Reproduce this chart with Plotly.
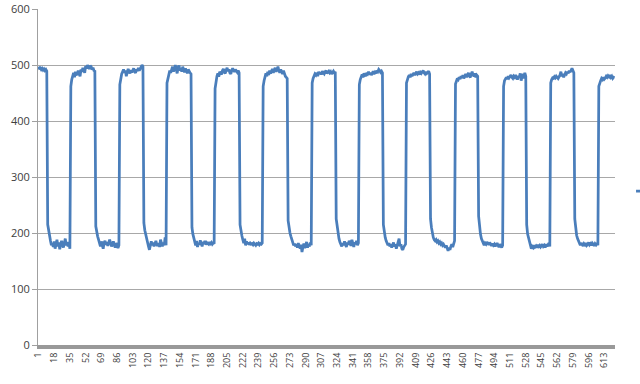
import plotly.graph_objects as go

high0 = [497, 494, 495, 492, 494, 491, 493, 490, 492, 489]
low1 = [215, 203, 195, 186, 178, 182, 175, 185, 172, 180, 188, 176, 183, 171, 179, 186, 180, 174, 182, 190, 178, 184, 176, 181, 172]
high1 = [462, 474, 480, 486, 478, 488, 484, 482, 490, 485, 480, 492, 488, 495, 490, 486, 498, 494, 500, 496, 493, 499, 497, 492, 495, 490, 489]
low2 = [212, 200, 194, 188, 180, 176, 185, 178, 172, 183, 186, 179, 184, 177, 181, 188, 182, 176, 180, 185, 178, 174, 182, 179, 173, 178]
high2 = [465, 478, 484, 488, 492, 486, 490, 480, 488, 493, 489, 485, 491, 487, 490, 494, 488, 486, 492, 489, 495, 490, 493, 498, 500, 497]
low3 = [218, 205, 196, 188, 182, 176, 170, 180, 185, 178, 183, 176, 181, 186, 179, 177, 182, 175, 188, 180, 176, 183, 178, 192, 178]
high3 = [468, 475, 484, 490, 486, 494, 497, 488, 495, 500, 492, 485, 496, 499, 490, 494, 488, 497, 492, 487, 494, 490, 485, 492, 488, 486, 484]
low4 = [210, 198, 192, 185, 178, 186, 175, 182, 179, 187, 180, 176, 184, 181, 186, 179, 183, 182, 180, 184, 181, 183, 180, 182, 181]
high4 = [458, 474, 480, 485, 479, 488, 486, 483, 490, 493, 487, 485, 491, 495, 489, 492, 486, 484, 490, 494, 491, 488, 492, 489, 487, 490, 486]
low5 = [215, 202, 195, 188, 182, 190, 178, 185, 180, 183, 179, 182, 180, 181, 179, 182, 180, 178, 181, 180, 182, 179, 181, 180, 182]
high5 = [462, 472, 478, 485, 480, 488, 482, 490, 485, 488, 493, 486, 490, 495, 488, 492, 497, 490, 486, 492, 488, 484, 490, 482, 480, 478, 476]
low6 = [222, 208, 200, 194, 188, 183, 178, 181, 176, 180, 174, 182, 177, 172, 179, 166, 175, 181, 173, 178, 184, 174, 180, 176, 183, 178]
high6 = [468, 476, 480, 484, 482, 486, 480, 488, 484, 487, 483, 489, 486, 484, 488, 490, 485, 487, 489, 486, 488, 484, 487, 489, 486, 488]
low7 = [225, 212, 200, 190, 184, 180, 176, 182, 178, 185, 180, 175, 183, 179, 186, 180, 177, 188, 181, 175, 183, 180, 186, 178, 182]
high7 = [465, 474, 478, 483, 478, 485, 482, 480, 486, 484, 488, 483, 486, 482, 485, 489, 484, 487, 485, 490, 488, 492, 490, 487, 489, 486]
low8 = [215, 200, 192, 186, 180, 178, 182, 176, 180, 174, 178, 183, 176, 180, 172, 178, 185, 190, 176, 180, 172, 170, 175, 178, 180]
high8 = [468, 476, 479, 482, 478, 484, 480, 483, 486, 482, 485, 488, 484, 486, 483, 487, 485, 488, 490, 486, 484, 488, 485, 487, 489, 484]
low9 = [225, 210, 198, 192, 188, 186, 188, 184, 186, 182, 184, 180, 182, 178, 180, 176, 174, 178, 172, 168, 174, 170, 176, 180, 175, 182, 186]
high9 = [466, 472, 476, 474, 478, 475, 480, 477, 482, 476, 480, 484, 478, 482, 486, 480, 478, 484, 488, 482, 480, 485, 478, 482, 480]
low10 = [230, 210, 198, 190, 186, 183, 178, 182, 180, 184, 181, 179, 183, 180, 177, 181, 178, 180, 176, 179, 182, 178, 175, 180, 177, 174, 178]
high10 = [462, 472, 476, 478, 475, 480, 477, 479, 482, 478, 476, 480, 478, 482, 476, 474, 480, 478, 485, 472, 480, 484, 476, 486, 480]
low11 = [215, 198, 190, 184, 178, 172, 176, 174, 178, 175, 177, 174, 179, 176, 178, 175, 177, 180, 176, 178, 174, 180, 176, 178, 182, 176]
high11 = [468, 474, 477, 476, 479, 477, 480, 478, 476, 479, 482, 488, 480, 484, 478, 482, 486, 484, 488, 485, 490, 487, 491, 494, 490, 486]
low12 = [225, 208, 196, 190, 185, 182, 178, 182, 180, 177, 181, 179, 182, 178, 180, 183, 179, 181, 178, 182, 180, 177, 181, 179, 182, 178]
high12 = [462, 470, 472, 476, 474, 478, 475, 477, 480, 478, 481, 479, 482, 478, 480, 476, 478, 477]

values = (high0 + low1 + high1 + low2 + high2 + low3 + high3 + low4 + high4 + low5
          + high5 + low6 + high6 + low7 + high7 + low8 + high8 + low9 + high9
          + low10 + high10 + low11 + high11 + low12 + high12)
categories = list(range(1, len(values) + 1))
x_tick_labels = [1, 18, 35, 52, 69, 86, 103, 120, 137, 154, 171, 188, 205, 222, 239,
                 256, 273, 290, 307, 324, 341, 358, 375, 392, 409, 426, 443, 460,
                 477, 494, 511, 528, 545, 562, 579, 596, 613]
y_ticks = [0, 100, 200, 300, 400, 500, 600]

FONT = "Open Sans"
TXT = "#404040"

fig = go.Figure()
fig.add_trace(go.Scatter(
    x=categories, y=values, mode="lines", name="Series1",
    line=dict(color="#4a7ebb", width=2.75), showlegend=True,
))

fig.update_layout(
    width=640, height=384,
    margin=dict(l=38, r=25, t=9, b=39, autoexpand=False),
    paper_bgcolor="white", plot_bgcolor="white",
    font=dict(family=FONT, color=TXT),
    legend=dict(x=1.0278, y=0.458, xanchor="left", yanchor="middle",
                font=dict(size=10, family=FONT, color=TXT),
                bgcolor="rgba(0,0,0,0)", borderwidth=0),
    xaxis=dict(
        range=[0.5, len(values) + 0.5],
        tickmode="array", tickvals=x_tick_labels,
        ticktext=[str(v) for v in x_tick_labels],
        tickangle=-90, tickfont=dict(size=9, family=FONT, color=TXT),
        showgrid=False, zeroline=False,
        showline=True, linecolor="#999999", linewidth=4,
        ticks="", ticklen=0,
    ),
    yaxis=dict(
        range=[0, 600], tickmode="array", tickvals=y_ticks,
        tickfont=dict(size=11, family=FONT, color=TXT),
        showgrid=True, gridcolor="#a8a8a8", gridwidth=1,
        zeroline=False, showline=True, linecolor="#a0a0a0", linewidth=1,
        ticks="outside", ticklen=5, tickcolor="#a0a0a0",
    ),
)

fig.write_html("out.html")
